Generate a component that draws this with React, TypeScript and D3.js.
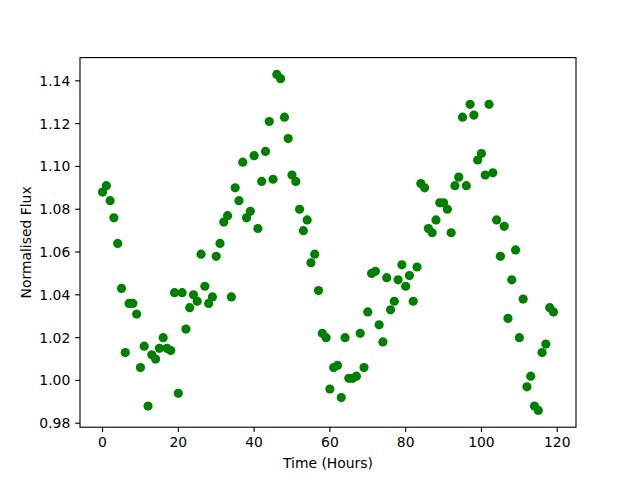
import React, { useEffect } from "react";
import * as d3 from "d3";

const hours: number[] = Array.from({ length: 120 }, (_, i) => i);
const flux: number[] = [
  1.088, 1.091, 1.084, 1.076, 1.064, 1.043, 1.013, 1.036, 1.036, 1.031,
  1.006, 1.016, 0.988, 1.012, 1.010, 1.015, 1.020, 1.015, 1.014, 1.041,
  0.994, 1.041, 1.024, 1.034, 1.040, 1.037, 1.059, 1.044, 1.036, 1.039,
  1.058, 1.064, 1.074, 1.077, 1.039, 1.090, 1.084, 1.102, 1.076, 1.079,
  1.105, 1.071, 1.093, 1.107, 1.121, 1.094, 1.143, 1.141, 1.123, 1.113,
  1.096, 1.093, 1.080, 1.070, 1.075, 1.055, 1.059, 1.042, 1.022, 1.020,
  0.996, 1.006, 1.007, 0.992, 1.020, 1.001, 1.001, 1.002, 1.022, 1.006,
  1.032, 1.050, 1.051, 1.026, 1.018, 1.048, 1.033, 1.037, 1.047, 1.054,
  1.044, 1.049, 1.037, 1.053, 1.092, 1.090, 1.071, 1.069, 1.075, 1.083,
  1.083, 1.080, 1.069, 1.091, 1.095, 1.123, 1.091, 1.129, 1.124, 1.103,
  1.106, 1.096, 1.129, 1.097, 1.075, 1.058, 1.072, 1.029, 1.047, 1.061,
  1.020, 1.038, 0.997, 1.002, 0.988, 0.986, 1.013, 1.017, 1.034, 1.032,
];
const xTicks: number[] = [0, 20, 40, 60, 80, 100, 120];
const yTicks: number[] = [0.98, 1.0, 1.02, 1.04, 1.06, 1.08, 1.1, 1.12, 1.14];
const xLabel = "Time (Hours)";
const yLabel = "Normalised Flux";

const W = 640, H = 480;
const L = 80, R = 576, T = 57.6, B = 427.2;
const FONT = "DejaVu Sans, sans-serif";

function padded(ext: [number, number]): [number, number] {
  const r = ext[1] - ext[0];
  return [ext[0] - 0.05 * r, ext[1] + 0.05 * r];
}

export default function App() {
  useEffect(() => {
    document.body.style.margin = "0";
  }, []);
  const x = d3.scaleLinear().domain(padded(d3.extent(hours) as [number, number])).range([L, R]);
  const y = d3.scaleLinear().domain(padded(d3.extent(flux) as [number, number])).range([B, T]);
  const tl = 4.86;
  return (
    <svg width={W} height={H} style={{ display: "block", background: "#fff" }} fontFamily={FONT}>
      <rect x={0} y={0} width={W} height={H} fill="#fff" />
      {hours.map((h, i) => (
        <circle key={i} cx={x(h)} cy={y(flux[i])} r={4.6} fill="#008000" />
      ))}
      <rect x={L} y={T} width={R - L} height={B - T} fill="none" stroke="#000" strokeWidth={1.11} />
      {xTicks.map((t) => (
        <g key={"x" + t}>
          <line x1={x(t)} x2={x(t)} y1={B} y2={B + tl} stroke="#000" strokeWidth={1.11} />
          <text x={x(t)} y={B + tl + 4.86 + 10.5} textAnchor="middle" fontSize={13.9} fill="#000">
            {d3.format("d")(t)}
          </text>
        </g>
      ))}
      {yTicks.map((t) => (
        <g key={"y" + t}>
          <line x1={L - tl} x2={L} y1={y(t)} y2={y(t)} stroke="#000" strokeWidth={1.11} />
          <text x={L - tl - 4.86} y={y(t) + 5} textAnchor="end" fontSize={13.9} fill="#000">
            {d3.format(".2f")(t)}
          </text>
        </g>
      ))}
      <text x={(L + R) / 2} y={468} textAnchor="middle" fontSize={13.9} fill="#000">
        {xLabel}
      </text>
      <text
        transform={`translate(31,${(T + B) / 2}) rotate(-90)`}
        textAnchor="middle"
        fontSize={13.9}
        fill="#000"
      >
        {yLabel}
      </text>
    </svg>
  );
}
